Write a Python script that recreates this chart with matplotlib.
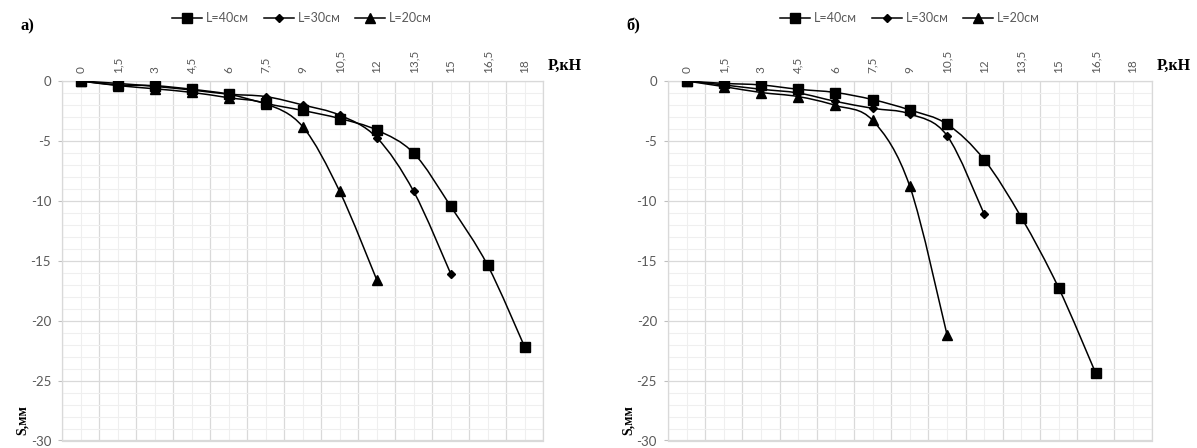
import matplotlib
matplotlib.use("Agg")
import matplotlib.pyplot as plt
import numpy as np
from matplotlib.path import Path
from matplotlib.patches import PathPatch
from matplotlib.lines import Line2D

# ---- data ----
P = [0, 1.5, 3, 4.5, 6, 7.5, 9, 10.5, 12, 13.5, 15, 16.5, 18]
tick_labels = ["0", "1,5", "3", "4,5", "6", "7,5", "9", "10,5", "12", "13,5", "15", "16,5", "18"]
series_names = ["L=40см", "L=30см", "L=20см"]

a_L40 = [0, -0.33, -0.39, -0.69, -1.1, -1.87, -2.46, -3.13, -4.09, -6.02, -10.46, -15.39, -22.2]
a_L30 = [0, -0.2, -0.45, -0.75, -1.1, -1.3, -2.0, -2.85, -4.72, -9.22, -16.08]
a_L20 = [0, -0.38, -0.65, -0.95, -1.4, -1.9, -3.81, -9.22, -16.58]

b_L40 = [0, -0.2, -0.33, -0.69, -0.96, -1.55, -2.42, -3.6, -6.57, -11.4, -17.26, -24.4]
b_L30 = [0, -0.33, -0.69, -1.0, -1.7, -2.28, -2.75, -4.56, -11.12]
b_L20 = [0, -0.47, -0.96, -1.3, -2.04, -3.29, -8.8, -21.18]

panel_labels = ["а)", "б)"]

# ---- style ----
W, H = 1197, 448
fig = plt.figure(figsize=(W / 100, H / 100), dpi=100)
sans = ["Lato", "DejaVu Sans"]
serif = ["Liberation Serif", "DejaVu Serif"]
gray = "#595959"
markers = [("s", 6.5), ("D", 4.5), ("^", 6.5)]


def smooth_path(x, y):
    pts = np.column_stack([x, y]).astype(float)
    n = len(pts)
    verts = [pts[0]]
    codes = [Path.MOVETO]
    for i in range(n - 1):
        p0 = pts[i - 1] if i > 0 else pts[i]
        p1 = pts[i]
        p2 = pts[i + 1]
        p3 = pts[i + 2] if i + 2 < n else pts[i + 1]
        c1 = p1 + (p2 - p0) / 6.0
        c2 = p2 - (p3 - p1) / 6.0
        verts += [c1, c2, p2]
        codes += [Path.CURVE4] * 3
    return Path(verts, codes)


def panel(rect, data, label, legend_center):
    ax = fig.add_axes(rect)
    ax.set_xlim(-0.75, 18.75)
    ax.set_ylim(-30, 0)
    bounds = [-0.75 + 1.5 * k for k in range(14)]
    ax.set_xticks(P)
    ax.set_xticklabels(tick_labels, rotation=90, color=gray, fontsize=8.5,
                       family=sans)
    ax.set_xticks(bounds, minor=True)
    ax.xaxis.tick_top()
    ax.tick_params(axis="x", which="both", length=0, pad=6)
    ax.set_yticks(np.arange(-30, 1, 5))
    ax.set_yticks(np.arange(-30, 1, 1), minor=True)
    ax.set_yticklabels([f"{v:d}" for v in range(-30, 1, 5)], color=gray,
                       fontsize=9.5, family=sans)
    ax.tick_params(axis="y", which="major", length=3, color="#bfbfbf", pad=5)
    ax.tick_params(axis="y", which="minor", length=0)
    ax.grid(True, axis="x", which="major", color="#efefef", lw=0.8)
    ax.grid(True, axis="x", which="minor", color="#d9d9d9", lw=0.9)
    ax.grid(True, axis="y", which="minor", color="#efefef", lw=0.8)
    ax.grid(True, axis="y", which="major", color="#d9d9d9", lw=0.9)
    ax.set_axisbelow(True)
    for s in ax.spines.values():
        s.set_color("#d9d9d9")
        s.set_linewidth(0.9)

    for (m, ms), ys in zip(markers, data):
        xs = P[:len(ys)]
        ax.add_patch(PathPatch(smooth_path(xs, ys), facecolor="none",
                               edgecolor="black", lw=1.1, zorder=3))
        ax.plot(xs, ys, linestyle="none", marker=m, ms=ms, color="black",
                zorder=4)

    handles = [Line2D([], [], color="black", lw=1.1, marker=m, ms=ms)
               for (m, ms) in markers]
    fig.legend(handles, series_names, loc="center",
               bbox_to_anchor=(legend_center / W, 1 - 18 / H),
               ncol=3, frameon=False, handlelength=2.4,
               columnspacing=1.2, handletextpad=0.3,
               prop={"family": sans, "size": 9},
               labelcolor=gray)
    x0 = rect[0] * W
    x1 = (rect[0] + rect[2]) * W
    fig.text((x0 - 35) / W, 1 - 26 / H, label, family=serif, weight="bold",
             fontsize=12, ha="center", va="center")
    fig.text((x1 + 5) / W, 1 - 66 / H, "P,кН", family=serif, weight="bold",
             fontsize=11.5, ha="left", va="center")
    fig.text((x0 - 40) / W, 1 - 420 / H, "S,мм", family=serif, weight="bold",
             fontsize=10, ha="center", va="center", rotation=90)
    return ax


bottom = 1 - 440.5 / H
top = 1 - 81 / H
panel([62.2 / W, bottom, (543.2 - 62.2) / W, top - bottom],
      [a_L40, a_L30, a_L20], panel_labels[0], 302)
panel([668.1 / W, bottom, (1151.6 - 668.1) / W, top - bottom],
      [b_L40, b_L30, b_L20], panel_labels[1], 910)

fig.savefig("out.png", dpi=100)
